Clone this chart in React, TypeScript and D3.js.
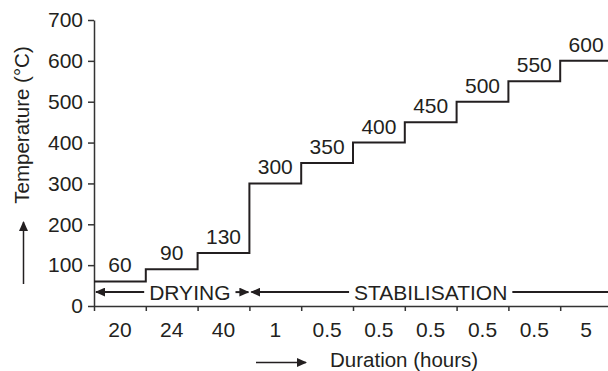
import { useRef, useEffect } from "react";
import * as d3 from "d3";

// temperature held during each stage (°C) and how long it lasts (hours)
const temperatures = [60, 90, 130, 300, 350, 400, 450, 500, 550, 600];
const durations = ["20", "24", "40", "1", "0.5", "0.5", "0.5", "0.5", "0.5", "5"];
const yTicks = [0, 100, 200, 300, 400, 500, 600, 700];

// process phases, in stage indices; labelAt is where the word sits
const phases = [
  { name: "DRYING", from: 0, to: 3, labelAt: 1.85 },
  { name: "STABILISATION", from: 3, to: 10, labelAt: 6.5 },
];
const phaseLevel = 34;

const W = 608;
const H = 371;
const FONT = "'Liberation Sans', Arial, Helvetica, sans-serif";
const INK = "#231f20";
const FS = "21px";

const App = () => {
  const svgRef = useRef<SVGSVGElement>(null);

  useEffect(() => {
    const svg = d3.select(svgRef.current);
    svg.selectAll("*").remove();

    const x = d3.scaleLinear().domain([0, temperatures.length]).range([94, 612]);
    const y = d3.scaleLinear().domain([0, 700]).range([306, 20]);

    const defs = svg.append("defs");
    defs
      .append("marker")
      .attr("id", "head")
      .attr("viewBox", "0 0 10 10")
      .attr("refX", 9)
      .attr("refY", 5)
      .attr("markerWidth", 10)
      .attr("markerHeight", 9)
      .attr("preserveAspectRatio", "none")
      .attr("markerUnits", "userSpaceOnUse")
      .attr("orient", "auto")
      .append("path")
      .attr("d", "M0,0 L10,5 L0,10 Z")
      .attr("fill", INK);

    // y axis
    const yAxis = svg
      .append("g")
      .attr("transform", `translate(${x(0)},0)`)
      .call(d3.axisLeft(y).tickValues(yTicks).tickSize(6).tickSizeOuter(0).tickPadding(5));

    // x axis: ticks on stage boundaries, labels in the middle of each stage
    const xAxis = svg
      .append("g")
      .attr("transform", `translate(0,${y(0)})`)
      .call(
        d3
          .axisBottom(x)
          .tickValues(d3.range(temperatures.length))
          .tickSize(5)
          .tickSizeOuter(0)
          .tickFormat(() => "")
      );

    [yAxis, xAxis].forEach((g) => {
      g.selectAll("path,line").attr("stroke", "#333").attr("stroke-width", 1.5);
      g.selectAll("text")
        .attr("fill", INK)
        .style("font-family", FONT)
        .style("font-size", FS);
    });

    svg
      .append("g")
      .selectAll("text")
      .data(durations)
      .join("text")
      .attr("x", (_, i) => x(i + 0.5))
      .attr("y", y(0) + 31)
      .attr("text-anchor", "middle")
      .attr("fill", INK)
      .style("font-family", FONT)
      .style("font-size", FS)
      .text((d) => d);

    // stepped temperature profile
    const pts: [number, number][] = temperatures.map((t, i) => [i, t]);
    pts.push([temperatures.length, temperatures[temperatures.length - 1]]);
    const line = d3
      .line<[number, number]>()
      .x((d) => x(d[0]))
      .y((d) => y(d[1]))
      .curve(d3.curveStepAfter);

    svg
      .append("path")
      .attr("d", line(pts))
      .attr("fill", "none")
      .attr("stroke", INK)
      .attr("stroke-width", 2);

    svg
      .append("g")
      .selectAll("text")
      .data(temperatures)
      .join("text")
      .attr("x", (_, i) => x(i + 0.5))
      .attr("y", (d) => y(d) - 9)
      .attr("text-anchor", "middle")
      .attr("fill", INK)
      .style("font-family", FONT)
      .style("font-size", FS)
      .text((d) => d);

    // phase annotations
    const py = y(phaseLevel);
    phases.forEach((p) => {
      const t = svg
        .append("text")
        .attr("x", x(p.labelAt))
        .attr("y", py)
        .attr("dy", "0.36em")
        .attr("text-anchor", "middle")
        .attr("fill", INK)
        .style("font-family", FONT)
        .style("font-size", FS)
        .text(p.name);
      const w = (t.node() as SVGTextElement).getComputedTextLength();
      const left = x(p.labelAt) - w / 2 - 5;
      const right = x(p.labelAt) + w / 2 + 5;
      svg
        .append("line")
        .attr("x1", left)
        .attr("x2", x(p.from) + 2)
        .attr("y1", py)
        .attr("y2", py)
        .attr("stroke", INK)
        .attr("stroke-width", 2)
        .attr("marker-end", "url(#head)");
      svg
        .append("line")
        .attr("x1", right)
        .attr("x2", x(p.to) - 1)
        .attr("y1", py)
        .attr("y2", py)
        .attr("stroke", INK)
        .attr("stroke-width", 2)
        .attr("marker-end", p.to < temperatures.length ? "url(#head)" : null);
    });

    // axis titles with direction arrows
    svg
      .append("text")
      .attr("transform", `translate(22,125) rotate(-90)`)
      .attr("dy", "0.36em")
      .attr("text-anchor", "middle")
      .attr("fill", INK)
      .style("font-family", FONT)
      .style("font-size", "20.5px")
      .text("Temperature (°C)");
    svg
      .append("line")
      .attr("x1", 23.5)
      .attr("x2", 23.5)
      .attr("y1", 284)
      .attr("y2", 222)
      .attr("stroke", INK)
      .attr("stroke-width", 1.5)
      .attr("marker-end", "url(#head)");

    svg
      .append("line")
      .attr("x1", 256)
      .attr("x2", 306)
      .attr("y1", 362.5)
      .attr("y2", 362.5)
      .attr("stroke", INK)
      .attr("stroke-width", 1.5)
      .attr("marker-end", "url(#head)");
    svg
      .append("text")
      .attr("x", 330)
      .attr("y", 367)
      .attr("fill", INK)
      .style("font-family", FONT)
      .style("font-size", "20.5px")
      .text("Duration (hours)");
  }, []);

  return (
    <svg
      ref={svgRef}
      width={W}
      height={H}
      style={{ position: "absolute", left: 0, top: 0, background: "#fff" }}
    />
  );
};

export default App;
